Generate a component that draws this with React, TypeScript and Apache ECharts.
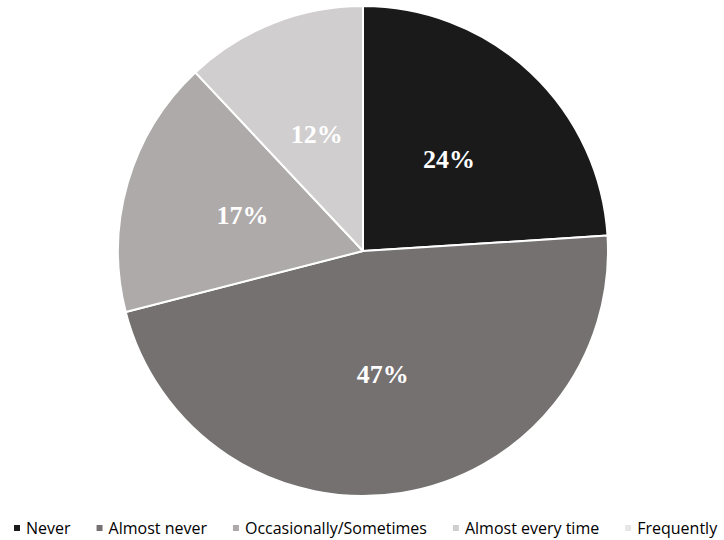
import React, { useEffect, useRef } from "react";
import * as echarts from "echarts";

const categories = ["Never", "Almost never", "Occasionally/Sometimes", "Almost every time", "Frequently"];
const values = [24, 47, 17, 12, 0];
const colors = ["#1a1a1a", "#757171", "#aeaaaa", "#d0cece", "#e7e6e6"];

export default function App() {
  const ref = useRef<HTMLDivElement>(null);
  useEffect(() => {
    const chart = echarts.init(ref.current!, null, { renderer: "svg" });
    chart.setOption({
      animation: false,
      backgroundColor: "#ffffff",
      color: colors,
      legend: {
        bottom: 4,
        left: 12,
        width: 712,
        padding: 0,
        itemWidth: 8,
        itemHeight: 8,
        itemGap: 24,
        icon: "rect",
        textStyle: { fontFamily: "Open Sans", fontSize: 16, color: "#000" },
        data: categories,
      },
      series: [
        {
          type: "pie",
          center: [363, 251],
          radius: [0, 245],
          startAngle: 90,
          clockwise: true,
          itemStyle: { borderColor: "#ffffff", borderWidth: 2 },
          label: {
            show: true,
            position: "inside",
            formatter: (p: any) => (p.value > 0 ? p.value + "%" : ""),
            fontFamily: "Liberation Serif",
            fontWeight: "bold",
            fontSize: 26,
            color: "#ffffff",
          },
          labelLine: { show: false },
          emphasis: { disabled: true },
          data: categories.map((c, i) => ({ name: c, value: values[i] })),
        },
      ],
    });
    return () => chart.dispose();
  }, []);
  return <div ref={ref} style={{ position: "fixed", left: 0, top: 0, width: 724, height: 540 }} />;
}
